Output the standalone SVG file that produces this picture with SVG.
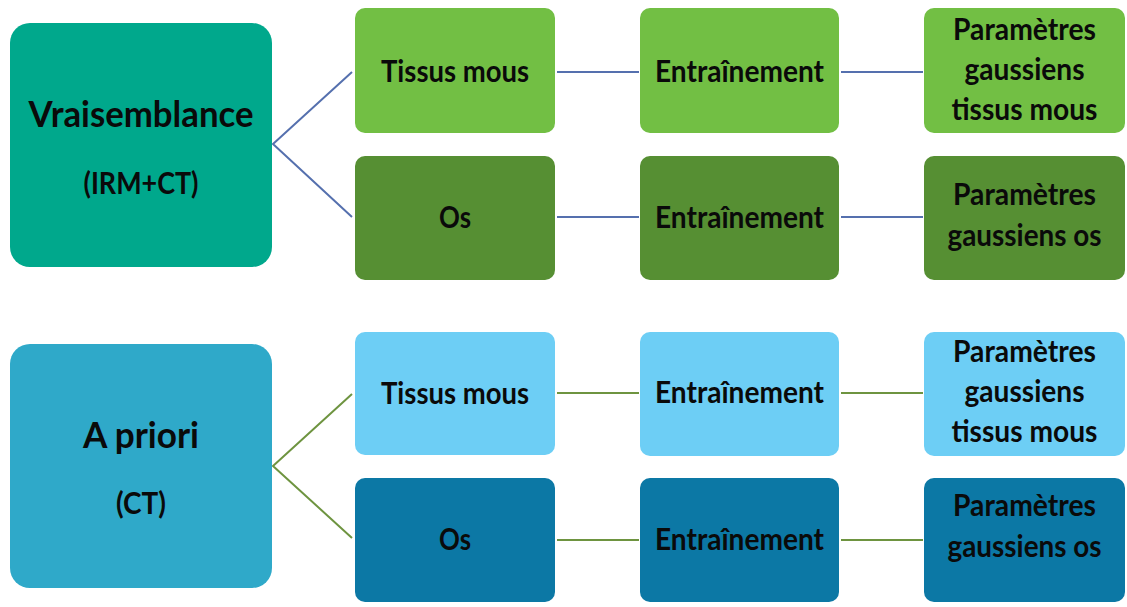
<svg xmlns="http://www.w3.org/2000/svg" width="1127" height="607" viewBox="0 0 1127 607">
<style>
.t{font-family:Lato,"Open Sans","Liberation Sans",sans-serif;font-weight:700;fill:#0a0a0a;text-anchor:middle;font-size:31px}
.h{font-size:37px}
.s{font-size:30px}
.c1{stroke:#5570AE;stroke-width:2;fill:none}
.c2{stroke:#6E9440;stroke-width:2;fill:none}
.big1{fill:#00A88C}
.lg{fill:#72BF44}
.dg{fill:#568F33}
.big2{fill:#2FA9C9}
.lb{fill:#6DCEF5}
.db{fill:#0C78A5}
</style>
<rect width="1127" height="607" fill="#ffffff"/>
<g id="connectors">
<polyline class="c1" points="352,72 273,144 352,217"/>
<line class="c1" x1="557" y1="72" x2="639" y2="72"/>
<line class="c1" x1="841" y1="72" x2="923" y2="72"/>
<line class="c1" x1="557" y1="217" x2="639" y2="217"/>
<line class="c1" x1="841" y1="217" x2="923" y2="217"/>
<polyline class="c2" points="352,394 273,466 352,538"/>
<line class="c2" x1="557" y1="393" x2="639" y2="393"/>
<line class="c2" x1="841" y1="393" x2="923" y2="393"/>
<line class="c2" x1="557" y1="540" x2="639" y2="540"/>
<line class="c2" x1="841" y1="540" x2="923" y2="540"/>
</g>
<g id="vraisemblance">
<rect class="big1" x="10" y="23" width="262" height="244" rx="20"/>
<text class="t h" x="141" y="127" textLength="225" lengthAdjust="spacingAndGlyphs">Vraisemblance</text>
<text class="t s" x="141" y="194" textLength="115" lengthAdjust="spacingAndGlyphs">(IRM+CT)</text>
</g>
<g id="v-tissus">
<rect class="lg" x="355" y="8" width="200" height="125" rx="10"/>
<text class="t" x="455" y="82" textLength="148" lengthAdjust="spacingAndGlyphs">Tissus mous</text>
</g>
<g id="v-tissus-train">
<rect class="lg" x="640" y="8" width="199" height="125" rx="10"/>
<text class="t" x="739.5" y="82" textLength="169" lengthAdjust="spacingAndGlyphs">Entraînement</text>
</g>
<g id="v-tissus-params">
<rect class="lg" x="924" y="8" width="201" height="125" rx="10"/>
<text class="t" x="1024.5" y="40" textLength="143" lengthAdjust="spacingAndGlyphs">Paramètres</text>
<text class="t" x="1024.5" y="80" textLength="120" lengthAdjust="spacingAndGlyphs">gaussiens</text>
<text class="t" x="1024.5" y="120" textLength="146" lengthAdjust="spacingAndGlyphs">tissus mous</text>
</g>
<g id="v-os">
<rect class="dg" x="355" y="156" width="200" height="124" rx="10"/>
<text class="t" x="455" y="228" textLength="32" lengthAdjust="spacingAndGlyphs">Os</text>
</g>
<g id="v-os-train">
<rect class="dg" x="640" y="156" width="199" height="124" rx="10"/>
<text class="t" x="739.5" y="228" textLength="169" lengthAdjust="spacingAndGlyphs">Entraînement</text>
</g>
<g id="v-os-params">
<rect class="dg" x="924" y="156" width="201" height="124" rx="10"/>
<text class="t" x="1024.5" y="205" textLength="143" lengthAdjust="spacingAndGlyphs">Paramètres</text>
<text class="t" x="1024.5" y="246" textLength="154" lengthAdjust="spacingAndGlyphs">gaussiens os</text>
</g>
<g id="apriori">
<rect class="big2" x="10" y="344" width="262" height="244" rx="20"/>
<text class="t h" x="141" y="448" textLength="116" lengthAdjust="spacingAndGlyphs">A priori</text>
<text class="t s" x="141" y="514" textLength="50" lengthAdjust="spacingAndGlyphs">(CT)</text>
</g>
<g id="a-tissus">
<rect class="lb" x="355" y="332" width="200" height="123" rx="10"/>
<text class="t" x="455" y="404" textLength="148" lengthAdjust="spacingAndGlyphs">Tissus mous</text>
</g>
<g id="a-tissus-train">
<rect class="lb" x="640" y="332" width="199" height="124" rx="10"/>
<text class="t" x="739.5" y="403" textLength="169" lengthAdjust="spacingAndGlyphs">Entraînement</text>
</g>
<g id="a-tissus-params">
<rect class="lb" x="924" y="332" width="201" height="124" rx="10"/>
<text class="t" x="1024.5" y="362" textLength="143" lengthAdjust="spacingAndGlyphs">Paramètres</text>
<text class="t" x="1024.5" y="402" textLength="120" lengthAdjust="spacingAndGlyphs">gaussiens</text>
<text class="t" x="1024.5" y="442" textLength="146" lengthAdjust="spacingAndGlyphs">tissus mous</text>
</g>
<g id="a-os">
<rect class="db" x="355" y="478" width="200" height="124" rx="10"/>
<text class="t" x="455" y="550" textLength="32" lengthAdjust="spacingAndGlyphs">Os</text>
</g>
<g id="a-os-train">
<rect class="db" x="640" y="478" width="199" height="124" rx="10"/>
<text class="t" x="739.5" y="550" textLength="169" lengthAdjust="spacingAndGlyphs">Entraînement</text>
</g>
<g id="a-os-params">
<rect class="db" x="924" y="478" width="201" height="124" rx="10"/>
<text class="t" x="1024.5" y="516" textLength="143" lengthAdjust="spacingAndGlyphs">Paramètres</text>
<text class="t" x="1024.5" y="557" textLength="154" lengthAdjust="spacingAndGlyphs">gaussiens os</text>
</g>
</svg>
